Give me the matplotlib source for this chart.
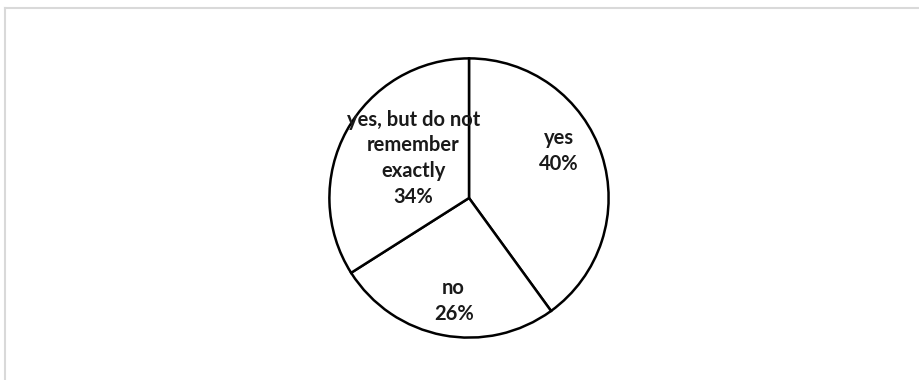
import matplotlib.pyplot as plt
from matplotlib.lines import Line2D

# answers and shares (percent)
categories = ['yes', 'no', 'yes, but do not\nremember\nexactly']
shares = [40, 26, 34]

# label centres in pie units (layout only)
label_pos = [(0.645, 0.335), (-0.11, -0.74), (-0.40, 0.285)]

fig = plt.figure(figsize=(9.19, 3.80), dpi=100)

# light gray frame (top and left edges visible)
fig.add_artist(Line2D([5/919, 5/919], [0, 1 - 8/380], color='#d9d9d9', lw=1.5))
fig.add_artist(Line2D([5/919, 1], [1 - 8/380, 1 - 8/380], color='#d9d9d9', lw=1.5))

ax = fig.add_axes([328/919, 41/380, 282/919, 282/380])
ax.pie(shares, startangle=90, counterclock=False, colors=['white'] * 3,
       wedgeprops=dict(edgecolor='black', linewidth=1.8), radius=1)
ax.set_xlim(-1.01, 1.01)
ax.set_ylim(-1.01, 1.01)
ax.set_aspect('equal')
ax.axis('off')

for name, val, (x, y) in zip(categories, shares, label_pos):
    ax.text(x, y, '{}\n{}%'.format(name, val), ha='center', va='center',
            fontsize=14.5, fontweight='bold', family='Lato', linespacing=1.36,
            color='#1a1a1a')

plt.savefig('out.png', dpi=100)
